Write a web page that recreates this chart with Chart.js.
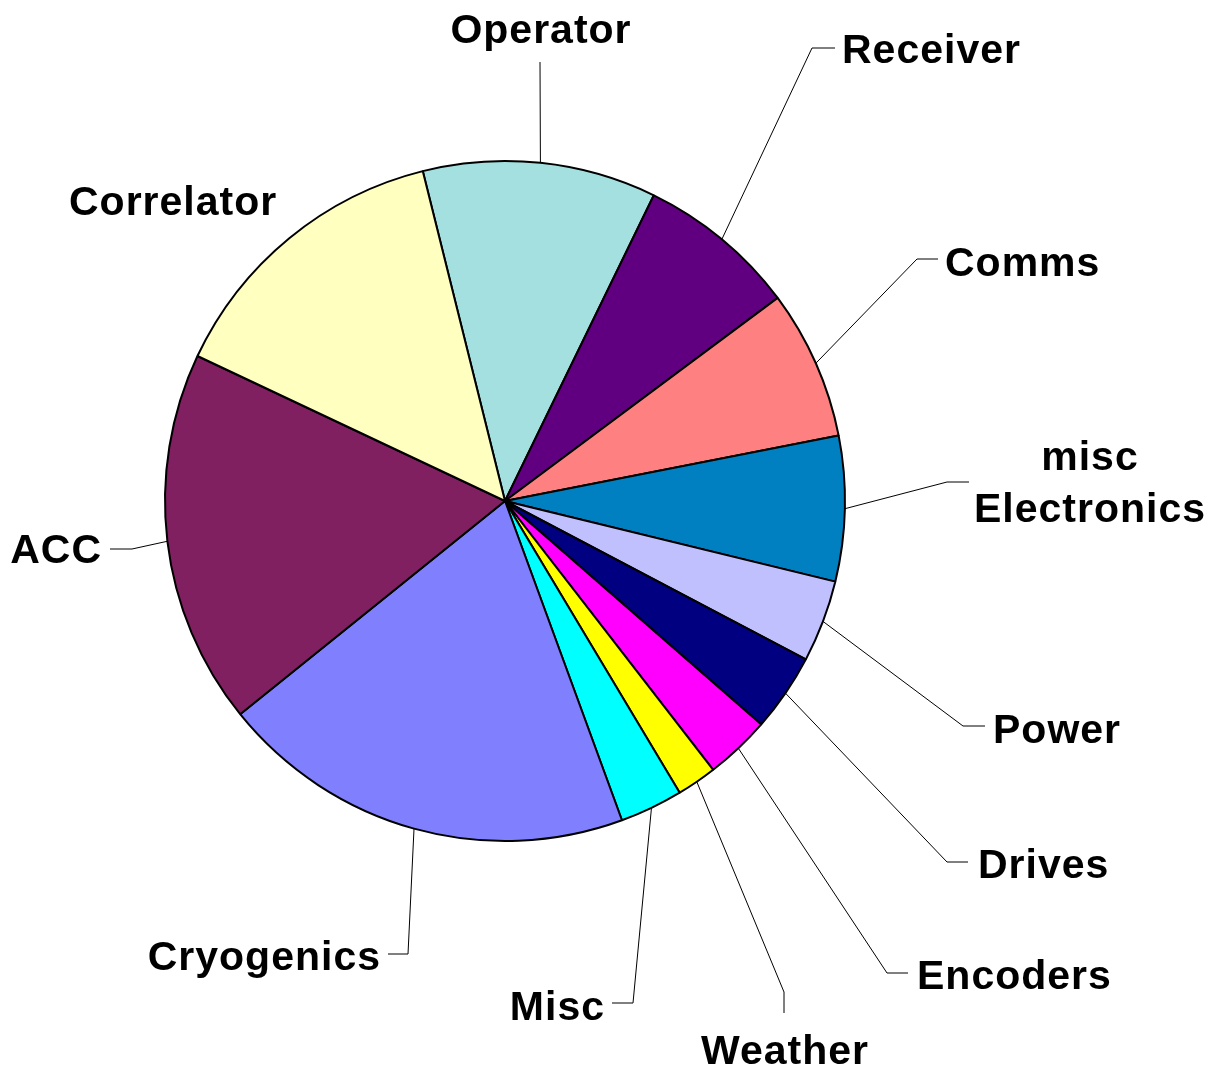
<!DOCTYPE html>
<html>
<head>
<meta charset="utf-8">
<script src="https://cdn.jsdelivr.net/npm/chart.js@4.4.0/dist/chart.umd.min.js"></script>
<style>
  html, body { margin: 0; padding: 0; background: #fff; }
  #wrap { width: 1206px; height: 1067px; position: relative; }
</style>
</head>
<body>
<div id="wrap"><canvas id="pie"></canvas></div>
<script>
// categories, clockwise from the top
const categories = ['Operator', 'Receiver', 'Comms', 'misc Electronics', 'Power', 'Drives',
  'Encoders', 'Weather', 'Misc', 'Cryogenics', 'ACC', 'Correlator'];
// share of faults (%)
const shares = [11.1, 7.6, 7.1, 6.9, 3.9, 3.7, 3.1, 1.9, 3.0, 19.8, 17.8, 14.1];
const sliceColors = ['#a4e0e0', '#600080', '#ff8080', '#0080c0', '#c0c0ff', '#000080',
  '#ff00ff', '#ffff00', '#00ffff', '#8080ff', '#802060', '#ffffc0'];

// label placement: leader line goes from slice edge -> elbow -> end, text drawn at tx,ty
const labelLayout = [
  {lines: ['Operator'], align: 'center', tx: 541, ty: 43, elbow: null, end: [540, 62]},
  {lines: ['Receiver'], align: 'left', tx: 842, ty: 63, elbow: [812, 48], end: [835, 48]},
  {lines: ['Comms'], align: 'left', tx: 945, ty: 276, elbow: [917, 259], end: [938, 259]},
  {lines: ['misc', 'Electronics'], align: 'center', tx: 1090, ty: 470, elbow: [947, 482], end: [969, 482]},
  {lines: ['Power'], align: 'left', tx: 993, ty: 743, elbow: [963, 726], end: [985, 726]},
  {lines: ['Drives'], align: 'left', tx: 978, ty: 878, elbow: [947, 862], end: [968, 862]},
  {lines: ['Encoders'], align: 'left', tx: 917, ty: 989, elbow: [887, 973], end: [908, 973]},
  {lines: ['Weather'], align: 'center', tx: 785, ty: 1064, elbow: [784, 992], end: [784, 1013]},
  {lines: ['Misc'], align: 'right', tx: 605, ty: 1020, elbow: [633, 1003], end: [612, 1003]},
  {lines: ['Cryogenics'], align: 'right', tx: 381, ty: 970, elbow: [408, 954], end: [388, 954]},
  {lines: ['ACC'], align: 'right', tx: 102, ty: 563, elbow: [132, 549], end: [110, 549]},
  {lines: ['Correlator'], align: 'left', tx: 69, ty: 215, elbow: null, end: null}
];

const leaderLabels = {
  id: 'leaderLabels',
  afterDatasetsDraw(chart) {
    const ctx = chart.ctx;
    const arcs = chart.getDatasetMeta(0).data;
    ctx.save();
    ctx.strokeStyle = '#000';
    ctx.lineWidth = 1;
    arcs.forEach((arc, i) => {
      const lay = labelLayout[i];
      if (!lay) return;
      const p = arc.getProps(['x', 'y', 'startAngle', 'endAngle', 'outerRadius'], true);
      const mid = (p.startAngle + p.endAngle) / 2;
      const ax = p.x + Math.cos(mid) * p.outerRadius;
      const ay = p.y + Math.sin(mid) * p.outerRadius;
      if (lay.end) {
        ctx.beginPath();
        ctx.moveTo(ax, ay);
        if (lay.elbow) ctx.lineTo(lay.elbow[0], lay.elbow[1]);
        ctx.lineTo(lay.end[0], lay.end[1]);
        ctx.stroke();
      }
      ctx.fillStyle = '#000';
      ctx.font = 'bold 41px "Liberation Sans", Arial, sans-serif';
      ctx.letterSpacing = '1px';
      ctx.textAlign = lay.align;
      ctx.textBaseline = 'alphabetic';
      lay.lines.forEach((t, k) => ctx.fillText(t, lay.tx, lay.ty + k * 52));
    });
    ctx.restore();
  }
};

new Chart(document.getElementById('pie'), {
  type: 'pie',
  data: {
    labels: categories,
    datasets: [{
      data: shares,
      backgroundColor: sliceColors,
      borderColor: '#000',
      borderWidth: 2
    }]
  },
  options: {
    responsive: true,
    maintainAspectRatio: false,
    animation: false,
    rotation: -14,
    radius: 340,
    layout: { padding: { left: 165, right: 361, top: 161, bottom: 226 } },
    plugins: {
      legend: { display: false },
      tooltip: { enabled: false }
    }
  },
  plugins: [leaderLabels]
});
</script>
</body>
</html>
